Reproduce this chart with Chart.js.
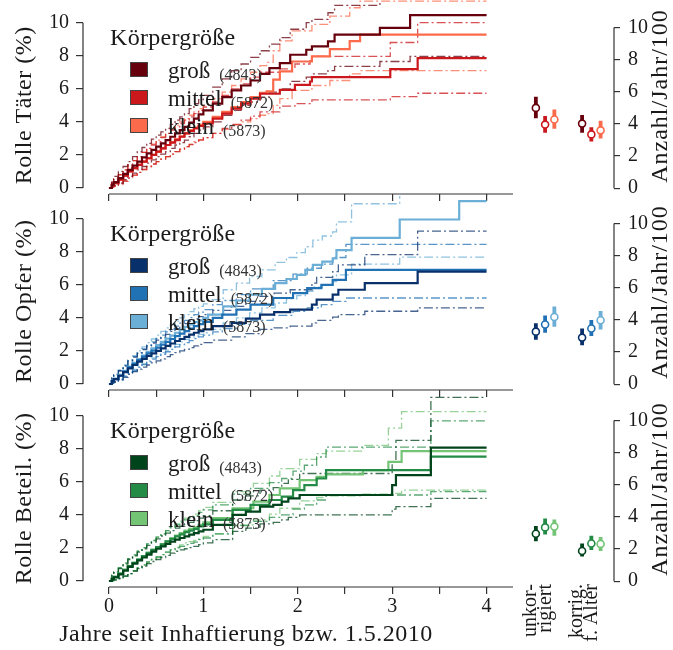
<!DOCTYPE html>
<html>
<head>
<meta charset="utf-8">
<script src="https://cdn.jsdelivr.net/npm/chart.js@4.4.1/dist/chart.umd.min.js"></script>
<style>
  body { margin: 0; background: #fff; width: 673px; height: 650px; position: relative; overflow: hidden; }
  .box { position: absolute; }
</style>
</head>
<body>
<div class="box" style="left:0;top:0;width:515px;height:202px"><canvas id="l0"></canvas></div>
<div class="box" style="left:515px;top:0;width:158px;height:202px"><canvas id="r0"></canvas></div>
<div class="box" style="left:0;top:196px;width:515px;height:202px"><canvas id="l1"></canvas></div>
<div class="box" style="left:515px;top:196px;width:158px;height:202px"><canvas id="r1"></canvas></div>
<div class="box" style="left:0;top:393px;width:515px;height:257px"><canvas id="l2"></canvas></div>
<div class="box" style="left:515px;top:393px;width:158px;height:257px"><canvas id="r2"></canvas></div>
<script>
// --- Achsen und Beschriftungen ---
const xTicks = [0, 0.5, 1, 1.5, 2, 2.5, 3, 3.5, 4];
const yTicks = [0, 2, 4, 6, 8, 10];
const groups = ['groß', 'mittel', 'klein'];
const groupN = ['(4843)', '(5872)', '(5873)'];
const rateCategories = [['unkor-', 'rigiert'], ['korrig.', 'f. Alter']];
const panelTitles = ['Rolle Täter (%)', 'Rolle Opfer (%)', 'Rolle Beteil. (%)'];
const legendTitle = 'Körpergröße';
const xTitle = 'Jahre seit Inhaftierung bzw. 1.5.2010';
const rateTitle = 'Anzahl/Jahr/100';

// Zeitpunkte der ersten Stufen (Jahre), für alle Kurven gleich
const earlyT = [0, 0.03, 0.05, 0.1, 0.15, 0.2, 0.25, 0.3, 0.35, 0.4, 0.45, 0.5, 0.55, 0.6, 0.65, 0.7, 0.75, 0.8, 0.85, 0.9, 0.95, 1.0];

// --- Rolle Täter: kumulative Inzidenz (Zeit, Schätzer, untere/obere Grenze) ---
const taeterGrossT   = earlyT.concat([1.1, 1.2, 1.3, 1.4, 1.5, 1.6, 1.7, 1.81, 1.92, 2.09, 2.15, 2.32, 2.39, 2.87, 3.19, 4.0]);
const taeterGrossEst = [0, 0.2, 0.35, 0.6, 0.85, 1.1, 1.35, 1.6, 1.85, 2.1, 2.3, 2.5, 2.7, 2.9, 3.1, 3.3, 3.5, 3.7, 3.95, 4.2, 4.45, 4.7,
                        5.1, 5.5, 5.9, 6.2, 6.5, 6.9, 7.25, 7.55, 8.06, 8.36, 8.56, 8.87, 9.27, 9.68, 10.45, 10.45];
const taeterGrossHi  = [0, 0.45, 0.7, 1.0, 1.3, 1.6, 1.9, 2.2, 2.45, 2.7, 2.95, 3.2, 3.4, 3.6, 3.85, 4.1, 4.3, 4.5, 4.8, 5.1, 5.35, 5.6,
                        6.1, 6.6, 7.1, 7.5, 7.9, 8.3, 8.7, 9.1, 9.6, 10.0, 10.2, 10.6, 11.05, 11.6, 12.6, 12.6];
const taeterGrossLo  = [0, 0.08, 0.15, 0.3, 0.5, 0.7, 0.9, 1.1, 1.3, 1.5, 1.7, 1.9, 2.05, 2.2, 2.4, 2.6, 2.75, 2.9, 3.1, 3.3, 3.5, 3.7,
                        4.0, 4.4, 4.7, 5.0, 5.2, 5.5, 5.8, 6.0, 6.45, 6.7, 6.9, 7.1, 7.35, 7.65, 7.96, 7.96];

const taeterMittelT   = earlyT.concat([1.1, 1.2, 1.3, 1.4, 1.5, 1.6, 1.81, 1.97, 2.13, 2.15, 2.98, 3.27, 4.0]);
const taeterMittelEst = [0, 0.17, 0.3, 0.5, 0.75, 1.0, 1.2, 1.4, 1.6, 1.8, 2.0, 2.2, 2.4, 2.6, 2.75, 2.9, 3.1, 3.3, 3.45, 3.6, 3.75, 3.9,
                         4.2, 4.5, 4.8, 5.1, 5.4, 5.7, 5.94, 6.24, 6.44, 6.7, 7.19, 7.86, 7.86];
const taeterMittelHi  = [0, 0.35, 0.55, 0.8, 1.1, 1.4, 1.65, 1.9, 2.15, 2.4, 2.6, 2.8, 3.05, 3.3, 3.5, 3.7, 3.9, 4.1, 4.3, 4.5, 4.7, 4.9,
                         5.2, 5.6, 6.0, 6.3, 6.7, 7.0, 7.2, 7.5, 7.7, 7.96, 8.8, 10.0, 10.0];
const taeterMittelLo  = [0, 0.06, 0.12, 0.25, 0.42, 0.6, 0.78, 0.95, 1.12, 1.3, 1.45, 1.6, 1.75, 1.9, 2.05, 2.2, 2.35, 2.5, 2.62, 2.75, 2.9, 3.05,
                         3.3, 3.6, 3.85, 4.1, 4.35, 4.6, 4.95, 5.1, 5.2, 5.33, 5.53, 5.73, 5.73];

const taeterKleinT   = earlyT.concat([1.1, 1.2, 1.3, 1.4, 1.5, 1.6, 1.67, 1.74, 1.81, 1.94, 2.15, 2.34, 2.55, 2.66, 4.0]);
const taeterKleinEst = [0, 0.17, 0.3, 0.5, 0.75, 1.0, 1.2, 1.4, 1.6, 1.8, 2.0, 2.2, 2.4, 2.6, 2.78, 2.95, 3.12, 3.3, 3.48, 3.65, 3.82, 4.0,
                        4.3, 4.6, 4.9, 5.2, 5.5, 5.75, 5.84, 6.55, 7.05, 7.65, 7.96, 8.4, 8.88, 9.27, 9.27];
const taeterKleinHi  = [0, 0.35, 0.55, 0.8, 1.1, 1.4, 1.65, 1.9, 2.15, 2.4, 2.65, 2.9, 3.1, 3.3, 3.55, 3.8, 4.0, 4.2, 4.4, 4.6, 4.8, 5.0,
                        5.4, 5.8, 6.2, 6.6, 7.0, 7.4, 7.6, 8.3, 8.9, 9.5, 9.9, 10.4, 10.9, 11.3, 11.3];
const taeterKleinLo  = [0, 0.06, 0.12, 0.25, 0.42, 0.6, 0.78, 0.95, 1.12, 1.3, 1.45, 1.6, 1.75, 1.9, 2.05, 2.2, 2.35, 2.5, 2.65, 2.8, 2.92, 3.05,
                        3.3, 3.55, 3.8, 4.0, 4.2, 4.4, 4.5, 5.0, 5.4, 5.9, 6.2, 6.5, 6.9, 7.1, 7.1];

// --- Rolle Opfer ---
const opferGrossT   = earlyT.concat([1.1, 1.3, 1.45, 1.6, 1.75, 1.92, 2.15, 2.2, 2.37, 2.43, 2.71, 3.27, 4.0]);
const opferGrossEst = [0, 0.17, 0.3, 0.5, 0.72, 0.95, 1.15, 1.35, 1.52, 1.7, 1.85, 2.0, 2.15, 2.3, 2.45, 2.6, 2.72, 2.85, 2.98, 3.1, 3.2, 3.3,
                       3.5, 3.7, 3.95, 4.2, 4.35, 4.5, 4.8, 5.1, 5.4, 5.7, 6.1, 6.8, 6.8];
const opferGrossHi  = [0, 0.35, 0.55, 0.8, 1.1, 1.4, 1.62, 1.85, 2.08, 2.3, 2.48, 2.65, 2.82, 3.0, 3.18, 3.35, 3.5, 3.65, 3.8, 3.95, 4.08, 4.2,
                       4.45, 4.7, 5.0, 5.3, 5.5, 5.7, 6.1, 6.45, 6.8, 7.2, 7.83, 9.25, 9.25];
const opferGrossLo  = [0, 0.06, 0.12, 0.25, 0.42, 0.6, 0.75, 0.9, 1.02, 1.15, 1.28, 1.4, 1.52, 1.65, 1.78, 1.9, 2.0, 2.1, 2.2, 2.3, 2.4, 2.5,
                       2.65, 2.85, 3.05, 3.3, 3.4, 3.5, 3.7, 3.85, 4.05, 4.2, 4.4, 4.6, 4.6];

const opferMittelT   = earlyT.concat([1.1, 1.2, 1.35, 1.5, 1.74, 1.95, 2.1, 2.25, 2.37, 2.51, 4.0]);
const opferMittelEst = [0, 0.17, 0.3, 0.5, 0.75, 1.0, 1.22, 1.45, 1.65, 1.85, 2.02, 2.2, 2.38, 2.55, 2.72, 2.9, 3.05, 3.2, 3.35, 3.5, 3.62, 3.75,
                        4.0, 4.2, 4.5, 4.8, 5.2, 5.5, 5.8, 6.0, 6.3, 6.9, 6.9];
const opferMittelHi  = [0, 0.35, 0.55, 0.8, 1.1, 1.4, 1.65, 1.9, 2.12, 2.35, 2.55, 2.75, 2.95, 3.15, 3.32, 3.5, 3.68, 3.85, 4.02, 4.2, 4.35, 4.5,
                        4.8, 5.05, 5.4, 5.75, 6.25, 6.65, 7.0, 7.25, 7.65, 8.44, 8.44];
const opferMittelLo  = [0, 0.06, 0.12, 0.25, 0.42, 0.6, 0.8, 1.0, 1.18, 1.35, 1.5, 1.65, 1.8, 1.95, 2.1, 2.25, 2.38, 2.5, 2.62, 2.75, 2.85, 2.95,
                        3.15, 3.35, 3.6, 3.85, 4.15, 4.4, 4.6, 4.8, 5.0, 5.2, 5.2];

const opferKleinT   = earlyT.concat([1.05, 1.21, 1.35, 1.49, 1.62, 1.76, 1.88, 1.99, 2.08, 2.16, 2.26, 2.37, 2.41, 2.57, 3.08, 3.71, 4.0]);
const opferKleinEst = [0, 0.2, 0.33, 0.55, 0.8, 1.05, 1.28, 1.5, 1.72, 1.95, 2.15, 2.35, 2.55, 2.75, 2.92, 3.1, 3.28, 3.45, 3.6, 3.75, 3.85, 4.0,
                       4.2, 4.7, 5.05, 5.4, 5.75, 6.1, 6.35, 6.6, 6.9, 7.2, 7.4, 7.6, 8.1, 8.84, 9.95, 11.06, 11.06];
const opferKleinHi  = [0, 0.38, 0.6, 0.85, 1.15, 1.45, 1.72, 2.0, 2.25, 2.5, 2.72, 2.95, 3.18, 3.4, 3.6, 3.8, 4.0, 4.2, 4.38, 4.55, 4.7, 4.85,
                       5.1, 5.7, 6.1, 6.5, 6.9, 7.35, 7.65, 7.95, 8.3, 8.7, 8.95, 9.2, 9.8, 10.9, 12.3, 13.5, 13.5];
const opferKleinLo  = [0, 0.07, 0.14, 0.3, 0.5, 0.7, 0.88, 1.05, 1.22, 1.4, 1.58, 1.75, 1.9, 2.05, 2.22, 2.4, 2.55, 2.7, 2.8, 2.9, 3.0, 3.1,
                       3.3, 3.7, 4.0, 4.3, 4.6, 4.9, 5.15, 5.35, 5.6, 5.85, 6.0, 6.2, 6.6, 7.25, 7.67, 7.67, 7.67];

// --- Rolle Beteiligter ---
const beteilGrossT   = earlyT.concat([1.1, 1.31, 1.45, 1.6, 1.74, 1.83, 1.9, 2.02, 3.0, 3.04, 3.41, 4.0]);
const beteilGrossEst = [0, 0.13, 0.22, 0.4, 0.62, 0.85, 1.05, 1.25, 1.42, 1.6, 1.78, 1.95, 2.1, 2.25, 2.38, 2.5, 2.6, 2.7, 2.8, 2.9, 3.0, 3.1,
                        3.4, 4.0, 4.2, 4.5, 4.6, 4.8, 5.0, 5.2, 5.8, 6.4, 8.07, 8.07];
const beteilGrossHi  = [0, 0.32, 0.5, 0.75, 1.02, 1.3, 1.52, 1.75, 1.95, 2.15, 2.35, 2.55, 2.72, 2.9, 3.05, 3.2, 3.32, 3.45, 3.55, 3.65, 3.8, 3.95,
                        4.25, 4.9, 5.15, 5.5, 5.65, 5.9, 6.15, 6.5, 7.2, 8.5, 11.1, 11.1];
const beteilGrossLo  = [0, 0.03, 0.07, 0.15, 0.3, 0.45, 0.6, 0.75, 0.9, 1.05, 1.18, 1.3, 1.42, 1.55, 1.68, 1.8, 1.88, 1.95, 2.02, 2.1, 2.2, 2.3,
                        2.5, 3.0, 3.2, 3.45, 3.55, 3.7, 3.85, 4.0, 4.35, 4.5, 5.0, 5.0];

const beteilMittelT   = earlyT.concat([1.1, 1.31, 1.5, 1.7, 1.83, 1.95, 2.07, 2.2, 2.3, 3.41, 4.0]);
const beteilMittelEst = [0, 0.15, 0.25, 0.45, 0.68, 0.9, 1.1, 1.3, 1.5, 1.7, 1.88, 2.05, 2.22, 2.4, 2.55, 2.7, 2.82, 2.95, 3.05, 3.15, 3.3, 3.42,
                         3.7, 4.3, 4.6, 4.9, 5.1, 5.5, 5.8, 6.2, 6.7, 7.52, 7.52];
const beteilMittelHi  = [0, 0.35, 0.55, 0.8, 1.08, 1.35, 1.58, 1.8, 2.02, 2.25, 2.45, 2.65, 2.85, 3.05, 3.22, 3.4, 3.55, 3.7, 3.82, 3.95, 4.15, 4.3,
                         4.6, 5.25, 5.6, 5.95, 6.2, 6.65, 7.0, 7.5, 8.1, 9.68, 9.68];
const beteilMittelLo  = [0, 0.03, 0.07, 0.15, 0.3, 0.45, 0.62, 0.8, 0.98, 1.15, 1.3, 1.45, 1.6, 1.75, 1.88, 2.0, 2.1, 2.2, 2.28, 2.35, 2.5, 2.6,
                         2.85, 3.35, 3.6, 3.85, 4.0, 4.35, 4.6, 4.9, 5.2, 5.4, 5.4];

const beteilKleinT   = earlyT.concat([1.1, 1.31, 1.53, 1.7, 1.81, 2.02, 2.2, 2.3, 2.69, 2.96, 3.1, 4.0]);
const beteilKleinEst = [0, 0.15, 0.25, 0.45, 0.68, 0.9, 1.1, 1.3, 1.5, 1.7, 1.88, 2.05, 2.22, 2.4, 2.58, 2.75, 2.9, 3.05, 3.15, 3.25, 3.4, 3.55,
                        3.8, 4.4, 4.8, 5.2, 5.6, 6.1, 6.3, 6.45, 6.7, 7.2, 7.86, 7.86];
const beteilKleinHi  = [0, 0.35, 0.55, 0.8, 1.08, 1.35, 1.58, 1.8, 2.02, 2.25, 2.45, 2.65, 2.85, 3.05, 3.25, 3.45, 3.62, 3.8, 3.92, 4.05, 4.25, 4.45,
                        4.75, 5.4, 5.9, 6.35, 6.8, 7.35, 7.7, 7.85, 8.2, 9.25, 10.24, 10.24];
const beteilKleinLo  = [0, 0.03, 0.07, 0.15, 0.3, 0.45, 0.62, 0.8, 0.98, 1.15, 1.3, 1.45, 1.6, 1.75, 1.9, 2.05, 2.18, 2.3, 2.38, 2.45, 2.55, 2.7,
                        2.85, 3.4, 3.7, 4.05, 4.4, 4.85, 5.05, 5.15, 5.25, 5.3, 5.5, 5.5];

// --- Raten (Anzahl/Jahr/100), Reihenfolge: groß, mittel, klein ---
const taeterUnkorEst = [5.0, 3.96, 4.28];
const taeterUnkorLo  = [4.36, 3.45, 3.7];
const taeterUnkorHi  = [5.7, 4.5, 4.9];
const taeterKorrEst  = [4.02, 3.35, 3.6];
const taeterKorrLo   = [3.45, 2.9, 3.1];
const taeterKorrHi   = [4.56, 3.8, 4.2];

const opferUnkorEst = [3.27, 3.72, 4.18];
const opferUnkorLo  = [2.77, 3.2, 3.57];
const opferUnkorHi  = [3.8, 4.28, 4.83];
const opferKorrEst  = [2.9, 3.47, 3.98];
const opferKorrLo   = [2.42, 3.0, 3.4];
const opferKorrHi   = [3.47, 4.0, 4.55];

const beteilUnkorEst = [2.95, 3.35, 3.4];
const beteilUnkorLo  = [2.48, 2.9, 2.83];
const beteilUnkorHi  = [3.44, 3.9, 3.84];
const beteilKorrEst  = [1.88, 2.35, 2.32];
const beteilKorrLo   = [1.53, 1.94, 1.88];
const beteilKorrHi   = [2.35, 2.83, 2.75];

// --- Stil ---
const reds = ['#67000d', '#cb181d', '#fb6a4a'];
const blues = ['#08306b', '#2171b5', '#6baed6'];
const greens = ['#00441b', '#238b45', '#74c476'];
const FONT = '"Liberation Serif", "DejaVu Serif", serif';
const textColor = '#1a1a1a';
const axisColor = '#333';
const sizeOffsets = [-0.2, 0, 0.2];

Chart.defaults.font.family = FONT;
Chart.defaults.color = textColor;

const panels = [
  {
    title: panelTitles[0], colors: reds,
    curves: [
      { t: taeterGrossT, est: taeterGrossEst, lo: taeterGrossLo, hi: taeterGrossHi },
      { t: taeterMittelT, est: taeterMittelEst, lo: taeterMittelLo, hi: taeterMittelHi },
      { t: taeterKleinT, est: taeterKleinEst, lo: taeterKleinLo, hi: taeterKleinHi }
    ],
    rates: [
      { est: taeterUnkorEst, lo: taeterUnkorLo, hi: taeterUnkorHi },
      { est: taeterKorrEst, lo: taeterKorrLo, hi: taeterKorrHi }
    ]
  },
  {
    title: panelTitles[1], colors: blues,
    curves: [
      { t: opferGrossT, est: opferGrossEst, lo: opferGrossLo, hi: opferGrossHi },
      { t: opferMittelT, est: opferMittelEst, lo: opferMittelLo, hi: opferMittelHi },
      { t: opferKleinT, est: opferKleinEst, lo: opferKleinLo, hi: opferKleinHi }
    ],
    rates: [
      { est: opferUnkorEst, lo: opferUnkorLo, hi: opferUnkorHi },
      { est: opferKorrEst, lo: opferKorrLo, hi: opferKorrHi }
    ]
  },
  {
    title: panelTitles[2], colors: greens,
    curves: [
      { t: beteilGrossT, est: beteilGrossEst, lo: beteilGrossLo, hi: beteilGrossHi },
      { t: beteilMittelT, est: beteilMittelEst, lo: beteilMittelLo, hi: beteilMittelHi },
      { t: beteilKleinT, est: beteilKleinEst, lo: beteilKleinLo, hi: beteilKleinHi }
    ],
    rates: [
      { est: beteilUnkorEst, lo: beteilUnkorLo, hi: beteilUnkorHi },
      { est: beteilKorrEst, lo: beteilKorrLo, hi: beteilKorrHi }
    ]
  }
];

function alpha(hex, a) {
  const n = parseInt(hex.slice(1), 16);
  return `rgba(${n >> 16},${(n >> 8) & 255},${n & 255},${a})`;
}

function stepData(t, v) {
  return t.map((x, i) => ({ x, y: v[i] }));
}

function noPad(s) {
  s.paddingTop = 0; s.paddingBottom = 0; s.paddingLeft = 0; s.paddingRight = 0;
}

// Text mit etwas Sperrung (Computer Modern läuft breiter als Times)
function spacedText(ctx, text, x, y, spacing) {
  if ('letterSpacing' in ctx) {
    ctx.letterSpacing = spacing + 'px';
    ctx.fillText(text, x, y);
    ctx.letterSpacing = '0px';
  } else {
    ctx.fillText(text, x, y);
  }
}

// gemeinsame y-Achse (gleicher Bereich links und rechts)
const Y_MIN = -0.363, Y_MAX = 11.37;

function leftDecor(panel, isBottom) {
  return {
    id: 'leftDecor',
    afterDraw(chart) {
      const { ctx, chartArea: a, scales: { x, y } } = chart;
      ctx.save();
      // begrenzte Achsenlinien
      ctx.strokeStyle = axisColor;
      ctx.lineWidth = 1.2;
      ctx.beginPath();
      ctx.moveTo(a.left, y.getPixelForValue(0));
      ctx.lineTo(a.left, y.getPixelForValue(10));
      ctx.moveTo(x.getPixelForValue(0), a.bottom);
      ctx.lineTo(a.right, a.bottom);
      ctx.stroke();

      // y-Titel
      ctx.fillStyle = textColor;
      ctx.save();
      ctx.font = `24px ${FONT}`;
      ctx.translate(25, y.getPixelForValue(5));
      ctx.rotate(-Math.PI / 2);
      ctx.textAlign = 'center';
      ctx.textBaseline = 'middle';
      spacedText(ctx, panel.title, 0, 0, 0.5);
      ctx.restore();

      // Legende
      ctx.textAlign = 'left';
      ctx.textBaseline = 'alphabetic';
      ctx.font = `24px ${FONT}`;
      spacedText(ctx, legendTitle, 110, 45, 0.3);
      const rows = [62, 90, 118];
      groups.forEach((g, i) => {
        ctx.fillStyle = panel.colors[i];
        ctx.fillRect(130, rows[i], 18, 15);
        ctx.strokeStyle = '#444';
        ctx.lineWidth = 1;
        ctx.strokeRect(130.5, rows[i] + 0.5, 17, 14);
        ctx.fillStyle = textColor;
        ctx.font = `23px ${FONT}`;
        ctx.fillText(g, 168, rows[i] + 16);
        const w = ctx.measureText(g).width;
        ctx.font = `16px ${FONT}`;
        ctx.fillStyle = '#333';
        ctx.fillText(groupN[i], 168 + w + 9, rows[i] + 18);
      });

      if (isBottom) {
        ctx.fillStyle = textColor;
        ctx.font = `24px ${FONT}`;
        ctx.textAlign = 'center';
        spacedText(ctx, xTitle, 246, 248, 0.5);
      }
      ctx.restore();
    }
  };
}

function rightDecor(isBottom) {
  return {
    id: 'rightDecor',
    afterDraw(chart) {
      const { ctx, chartArea: a, scales: { x, y } } = chart;
      ctx.save();
      ctx.strokeStyle = axisColor;
      ctx.lineWidth = 1.2;
      ctx.beginPath();
      ctx.moveTo(a.right, y.getPixelForValue(0));
      ctx.lineTo(a.right, y.getPixelForValue(10));
      ctx.stroke();

      ctx.fillStyle = textColor;
      ctx.save();
      ctx.font = `24px ${FONT}`;
      ctx.translate(146, 96);
      ctx.rotate(-Math.PI / 2);
      ctx.textAlign = 'center';
      ctx.textBaseline = 'middle';
      spacedText(ctx, rateTitle, 0, 0, 1);
      ctx.restore();

      if (isBottom) {
        ctx.font = `20px ${FONT}`;
        rateCategories.forEach((lines, c) => {
          const px = x.getPixelForValue(c) - 7;
          lines.forEach((line, j) => {
            ctx.save();
            ctx.translate(px + (j - (lines.length - 1) / 2) * 14.5, 191);
            ctx.rotate(-Math.PI / 2);
            ctx.textAlign = 'right';
            ctx.textBaseline = 'middle';
            ctx.fillText(line, 0, 0);
            ctx.restore();
          });
        });
      }
      ctx.restore();
    }
  };
}

function makeLeft(id, panel, isBottom) {
  const datasets = [];
  panel.curves.forEach((c, i) => {
    const col = panel.colors[i];
    datasets.push({
      label: groups[i], data: stepData(c.t, c.est), borderColor: col, borderWidth: 2.2,
      stepped: 'before', pointRadius: 0, order: 0
    });
    [c.lo, c.hi].forEach(v => datasets.push({
      label: groups[i] + ' KI', data: stepData(c.t, v), borderColor: alpha(col, 0.75), borderWidth: 1.3,
      borderDash: [9, 3, 2, 3], stepped: 'before', pointRadius: 0, order: 1
    }));
  });

  return new Chart(document.getElementById(id), {
    type: 'line',
    data: { datasets },
    options: {
      responsive: true, maintainAspectRatio: false, animation: false, events: [],
      layout: { padding: { left: 0, right: 2, top: 0, bottom: 0 } },
      plugins: { legend: { display: false }, tooltip: { enabled: false } },
      scales: {
        x: {
          type: 'linear', min: -0.275, max: 4.28,
          afterBuildTicks: s => { s.ticks = xTicks.map(v => ({ value: v })); },
          ticks: {
            display: isBottom, autoSkip: false, maxRotation: 0, padding: 1,
            font: { size: 20 }, color: textColor,
            callback: v => Number.isInteger(v) ? String(v) : ''
          },
          grid: { drawOnChartArea: false, drawTicks: true, tickLength: 7, color: axisColor, lineWidth: 1.2 },
          border: { display: false },
          afterFit: s => { s.height = isBottom ? 63 : 8; noPad(s); }
        },
        y: {
          min: Y_MIN, max: Y_MAX,
          afterBuildTicks: s => { s.ticks = yTicks.map(v => ({ value: v })); },
          ticks: { padding: 7, font: { size: 20 }, color: textColor },
          grid: { drawOnChartArea: false, drawTicks: true, tickLength: 7, color: axisColor, lineWidth: 1.2 },
          border: { display: false },
          afterFit: s => { s.width = 83; noPad(s); }
        }
      }
    },
    plugins: [leftDecor(panel, isBottom)]
  });
}

function makeRight(id, panel, isBottom) {
  const datasets = [];
  panel.rates.forEach((r, c) => {
    groups.forEach((g, i) => {
      const col = panel.colors[i];
      const px = c + sizeOffsets[i];
      datasets.push({
        label: g, data: [{ x: px, y: r.lo[i] }, { x: px, y: r.hi[i] }],
        borderColor: col, borderWidth: 3.8, pointRadius: 0, order: 1, borderCapStyle: 'butt'
      });
      datasets.push({
        label: g, data: [{ x: px, y: r.est[i] }], showLine: false,
        pointRadius: 3.5, pointBackgroundColor: '#fff', pointBorderColor: col, pointBorderWidth: 1.6, order: 0
      });
    });
  });

  return new Chart(document.getElementById(id), {
    type: 'line',
    data: { datasets },
    options: {
      responsive: true, maintainAspectRatio: false, animation: false, events: [],
      layout: { padding: { left: 0, right: 0, top: 0, bottom: isBottom ? 63 : 8 } },
      plugins: { legend: { display: false }, tooltip: { enabled: false } },
      scales: {
        x: { type: 'linear', min: -0.53, max: 1.49, display: false },
        y: {
          position: 'right', min: Y_MIN, max: Y_MAX,
          afterBuildTicks: s => { s.ticks = yTicks.map(v => ({ value: v })); },
          ticks: { padding: 8, font: { size: 20 }, color: textColor },
          grid: { drawOnChartArea: false, drawTicks: true, tickLength: 6, color: axisColor, lineWidth: 1.2 },
          border: { display: false },
          afterFit: s => { s.width = 59; noPad(s); }
        }
      }
    },
    plugins: [rightDecor(isBottom)]
  });
}

panels.forEach((p, k) => {
  makeLeft('l' + k, p, k === 2);
  makeRight('r' + k, p, k === 2);
});
</script>
</body>
</html>
